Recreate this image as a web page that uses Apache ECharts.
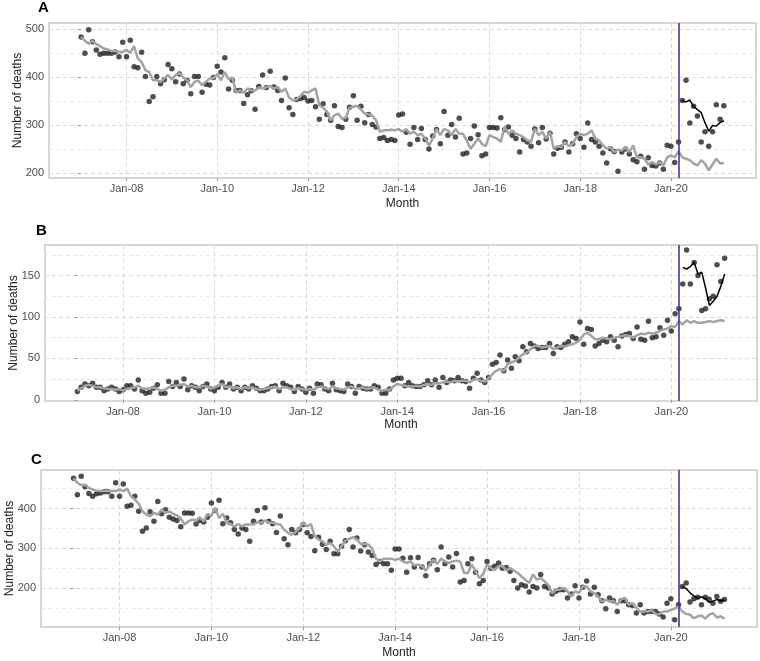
<!DOCTYPE html>
<html>
<head>
<meta charset="utf-8">
<script src="https://cdn.jsdelivr.net/npm/echarts@6/dist/echarts.min.js"></script>
<style>
  html, body { margin: 0; background: #fff; }
  #chart { width: 760px; height: 661px; }
</style>
</head>
<body>
<div id="chart"></div>
<script>
// x = months since Jan 2007 (0 = Jan-07 ... 170 = Mar-21)
const tickMonths = [12, 36, 60, 84, 108, 132, 156];
const tickLabels = ['Jan-08', 'Jan-10', 'Jan-12', 'Jan-14', 'Jan-16', 'Jan-18', 'Jan-20'];
const interventionMonth = 158; // Mar-20
const covidStart = 159;

// panel A
const obsA = [483, 449, 498, 473, 456, 447, 449, 449, 449, 452, 442, 472, 442, 476, 421, 419, 451, 401, 349, 359,
  401, 386, 394, 426, 417, 390, 406, 386, 393, 365, 401, 401, 368, 385, 383, 399, 422, 410, 440, 375,
  393, 372, 372, 345, 363, 371, 333, 380, 404, 378, 412, 379, 372, 351, 398, 336, 322, 353, 355, 357,
  350, 351, 338, 312, 344, 322, 310, 340, 297, 295, 312, 337, 361, 310, 339, 305, 322, 301, 296, 272,
  274, 268, 270, 268, 321, 323, 285, 260, 295, 270, 293, 270, 250, 277, 291, 261, 328, 279, 301, 275,
  314, 240, 242, 272, 298, 280, 236, 240, 295, 295, 294, 315, 290, 296, 279, 272, 244, 270, 265, 256,
  292, 263, 295, 271, 283, 240, 252, 254, 265, 244, 261, 282, 272, 254, 304, 270, 265, 256, 242, 221,
  251, 245, 204, 244, 250, 240, 228, 224, 235, 208, 232, 216, 215, 221, 208, 258, 256, 222, 265, 351,
  393, 304, 339, 319, 265, 286, 256, 286, 342, 312, 340];
const fitA = [483, 475, 469, 475, 468, 464, 459, 457, 454, 454, 452, 452, 456, 450, 464, 438, 431, 414, 410, 393,
  393, 390, 397, 404, 395, 404, 408, 399, 393, 379, 390, 392, 383, 390, 397, 397, 406, 393, 410, 395,
  399, 367, 372, 367, 376, 372, 372, 378, 376, 379, 381, 376, 379, 369, 376, 357, 351, 353, 360, 369,
  367, 372, 376, 341, 336, 328, 310, 320, 324, 313, 315, 336, 338, 340, 332, 324, 322, 320, 310, 286,
  289, 289, 290, 289, 292, 286, 292, 282, 286, 279, 282, 272, 258, 272, 292, 279, 292, 289, 279, 292,
  282, 282, 267, 251, 261, 272, 261, 256, 279, 275, 272, 265, 297, 282, 289, 282, 279, 275, 268, 265,
  292, 279, 286, 272, 286, 251, 256, 254, 265, 256, 261, 275, 282, 279, 282, 289, 272, 268, 258, 251,
  254, 244, 249, 247, 254, 244, 258, 233, 233, 230, 218, 223, 218, 223, 216, 233, 237, 233, 246, 233,
  230, 227, 220, 216, 227, 220, 206, 218, 230, 220, 221];
const covidA = [351, 348, 352, 339, 332, 326, 305, 287, 299, 298, 305, 309];

// panel B
const obsB = [10, 15, 19, 17, 20, 15, 15, 11, 13, 15, 13, 10, 12, 17, 17, 13, 24, 11, 8, 9,
  14, 18, 8, 8, 22, 16, 21, 16, 25, 12, 17, 15, 11, 16, 19, 13, 11, 15, 21, 15,
  19, 13, 15, 11, 15, 13, 17, 14, 11, 11, 13, 16, 17, 11, 20, 17, 15, 10, 16, 13,
  9, 14, 8, 19, 18, 13, 11, 20, 12, 11, 10, 19, 16, 8, 16, 14, 13, 13, 17, 15,
  8, 8, 13, 24, 26, 26, 17, 21, 17, 16, 16, 18, 23, 18, 24, 15, 27, 21, 24, 23,
  27, 23, 22, 14, 26, 32, 24, 21, 27, 43, 45, 54, 35, 48, 38, 52, 47, 64, 58, 68,
  65, 62, 63, 63, 68, 56, 64, 63, 67, 70, 76, 74, 94, 67, 86, 85, 65, 68, 72, 70,
  76, 72, 64, 77, 79, 80, 74, 88, 73, 72, 95, 75, 76, 87, 78, 96, 83, 104, 110, 140,
  181, 140, 166, 150, 108, 110, 122, 125, 163, 143, 171];
const fitB = [11, 14, 17, 18, 17, 15, 15, 14, 13, 13, 12, 13, 11, 13, 14, 15, 17, 14, 13, 14,
  15, 13, 11, 12, 15, 17, 17, 18, 19, 16, 17, 15, 15, 17, 16, 13, 15, 17, 19, 15,
  16, 14, 15, 13, 15, 14, 15, 13, 12, 13, 14, 15, 16, 13, 15, 15, 13, 12, 14, 13,
  12, 13, 12, 15, 16, 14, 13, 16, 14, 13, 12, 15, 16, 13, 14, 15, 13, 14, 15, 12,
  11, 12, 12, 16, 19, 18, 17, 16, 16, 17, 16, 18, 19, 18, 20, 20, 21, 22, 21, 23,
  22, 23, 23, 21, 24, 25, 23, 22, 26, 31, 35, 37, 35, 43, 45, 47, 51, 55, 57, 61,
  65, 65, 63, 64, 65, 61, 63, 65, 64, 66, 67, 69, 72, 79, 81, 77, 73, 73, 75, 74,
  73, 75, 76, 77, 78, 77, 75, 78, 80, 79, 81, 80, 81, 83, 85, 86, 89, 88, 95, 91,
  96, 93, 95, 93, 93, 94, 95, 94, 95, 96, 95];
const covidB = [160, 158, 161, 166, 152, 154, 135, 114, 119, 125, 137, 152];

// panel C
const obsC = [476, 435, 481, 455, 438, 431, 437, 439, 442, 442, 431, 465, 431, 462, 406, 408, 431, 393, 343, 351,
  392, 368, 418, 387, 397, 378, 374, 370, 354, 389, 389, 388, 361, 370, 366, 378, 414, 395, 421, 362,
  376, 364, 347, 336, 351, 347, 318, 368, 395, 366, 402, 368, 362, 340, 381, 324, 309, 347, 339, 347,
  360, 339, 330, 294, 328, 310, 297, 318, 286, 286, 305, 319, 347, 303, 326, 293, 309, 291, 282, 259,
  267, 261, 261, 245, 298, 298, 275, 240, 276, 253, 277, 253, 231, 261, 270, 246, 303, 261, 278, 253,
  287, 215, 219, 261, 274, 240, 211, 219, 267, 250, 255, 263, 250, 252, 242, 219, 200, 208, 205, 190,
  204, 200, 234, 204, 200, 185, 192, 196, 196, 175, 185, 206, 175, 202, 218, 185, 202, 183, 168, 148,
  175, 168, 141, 168, 168, 158, 156, 137, 158, 137, 141, 141, 141, 135, 127, 162, 173, 120, 158, 204,
  213, 165, 173, 177, 158, 177, 172, 162, 179, 167, 171];
const fitC = [476, 465, 459, 460, 452, 448, 445, 444, 444, 444, 444, 444, 448, 444, 450, 431, 423, 412, 393, 385,
  381, 389, 385, 397, 389, 393, 387, 383, 375, 360, 368, 372, 370, 378, 368, 387, 381, 402, 376, 387,
  364, 361, 355, 361, 355, 360, 360, 360, 366, 364, 370, 364, 364, 361, 360, 347, 339, 334, 341, 351,
  364, 355, 361, 330, 322, 318, 309, 313, 305, 291, 305, 319, 324, 328, 322, 311, 311, 309, 299, 274,
  267, 274, 274, 274, 271, 274, 267, 263, 267, 257, 259, 255, 244, 259, 271, 261, 274, 267, 263, 267,
  269, 266, 238, 238, 259, 242, 225, 236, 259, 250, 246, 255, 256, 244, 250, 244, 238, 229, 221, 213,
  234, 221, 225, 217, 208, 187, 196, 196, 200, 192, 179, 192, 187, 204, 204, 192, 187, 179, 166, 171,
  166, 168, 158, 171, 176, 158, 162, 150, 141, 141, 141, 144, 135, 134, 141, 141, 145, 148, 153, 141,
  135, 133, 124, 129, 131, 123, 133, 137, 126, 129, 123];
const covidC = [203, 199, 188, 180, 174, 178, 173, 164, 167, 171, 168, 170];

const panels = [
  { label: 'A', obs: obsA, fit: fitA, covid: covidA, yMin: 190, yMax: 512,
    major: [200, 300, 400, 500], minor: [250, 350, 450],
    grid: { left: 49, top: 23, width: 707, height: 155 }, title: { left: 38, top: 0 }, monthGap: 20 },
  { label: 'B', obs: obsB, fit: fitB, covid: covidB, yMin: -1.5, yMax: 187,
    major: [0, 50, 100, 150], minor: [25, 75, 125, 175],
    grid: { left: 45, top: 245, width: 712, height: 156 }, title: { left: 36, top: 223 }, monthGap: 18 },
  { label: 'C', obs: obsC, fit: fitC, covid: covidC, yMin: 102, yMax: 497,
    major: [200, 300, 400], minor: [150, 250, 350, 450],
    grid: { left: 41, top: 470, width: 716, height: 157 }, title: { left: 31, top: 452 }, monthGap: 20 }
];

const font = 'Liberation Sans, Arial, sans-serif';
const gridLine = { color: '#dadada', width: 1, type: [4, 3] };

const chart = echarts.init(document.getElementById('chart'), null, { renderer: 'canvas' });

const option = {
  animation: false,
  backgroundColor: '#fff',
  textStyle: { fontFamily: font },
  title: panels.map(p => ({
    text: p.label, left: p.title.left, top: p.title.top, padding: 0,
    textStyle: { fontSize: 15, fontWeight: 'bold', color: '#000', fontFamily: font }
  })),
  grid: panels.map(p => Object.assign({
    show: true, borderColor: '#c9c9c9', borderWidth: 1.5, backgroundColor: '#fff',
    containLabel: false, outerBoundsMode: 'none'
  }, p.grid)),
  xAxis: panels.map((p, i) => ({
    type: 'value', gridIndex: i, min: -8.5, max: 178.5,
    name: 'Month', nameLocation: 'middle', nameGap: p.monthGap, nameMoveOverlap: false,
    nameTextStyle: { fontSize: 12, color: '#222', fontFamily: font },
    axisLine: { show: false },
    axisTick: { show: true, length: 3, customValues: tickMonths, lineStyle: { color: '#999' } },
    axisLabel: {
      customValues: tickMonths, margin: 5, fontSize: 11, color: '#4d4d4d', fontFamily: font,
      formatter: v => tickLabels[tickMonths.indexOf(v)] || ''
    },
    splitLine: { show: true, lineStyle: gridLine }
  })),
  yAxis: panels.map((p, i) => ({
    type: 'value', gridIndex: i, min: p.yMin, max: p.yMax,
    name: 'Number of deaths', nameLocation: 'middle', nameGap: 25, nameMoveOverlap: false,
    nameTextStyle: { fontSize: 12, color: '#222', fontFamily: font },
    axisLine: { show: false },
    axisTick: { show: true, length: 3, customValues: p.major, lineStyle: { color: '#999' } },
    axisLabel: { customValues: p.major, margin: 5, fontSize: 11, color: '#4d4d4d', fontFamily: font },
    splitLine: { show: true, lineStyle: gridLine }
  })),
  series: []
};

panels.forEach((p, i) => {
  // minor horizontal grid lines, kept under the points
  option.series.push({
    type: 'line', xAxisIndex: i, yAxisIndex: i, z: 1, data: [],
    markLine: {
      silent: true, z: 1, symbol: ['none', 'none'], label: { show: false }, animation: false,
      data: p.minor.map(v => ({ yAxis: v, lineStyle: { color: '#e8e8e8', width: 1, type: [4, 3] } }))
    }
  });
  option.series.push({
    type: 'scatter', xAxisIndex: i, yAxisIndex: i, z: 2,
    symbolSize: 5.5,
    itemStyle: { color: '#222' },
    data: p.obs.map((v, m) => [m, v])
  });
  option.series.push({
    type: 'line', xAxisIndex: i, yAxisIndex: i, z: 3,
    showSymbol: false,
    lineStyle: { color: '#a3a3a3', width: 2.5 },
    data: p.fit.map((v, m) => [m, v])
  });
  option.series.push({
    type: 'line', xAxisIndex: i, yAxisIndex: i, z: 4,
    showSymbol: false,
    lineStyle: { color: '#000', width: 1.5 },
    data: p.covid.map((v, k) => [covidStart + k, v]),
    markLine: {
      silent: true, z: 5, symbol: ['none', 'none'], label: { show: false }, animation: false,
      data: [{ xAxis: interventionMonth, lineStyle: { color: '#3a3aa0', width: 1.6, type: 'solid' } }]
    }
  });
});

chart.setOption(option);
</script>
</body>
</html>
